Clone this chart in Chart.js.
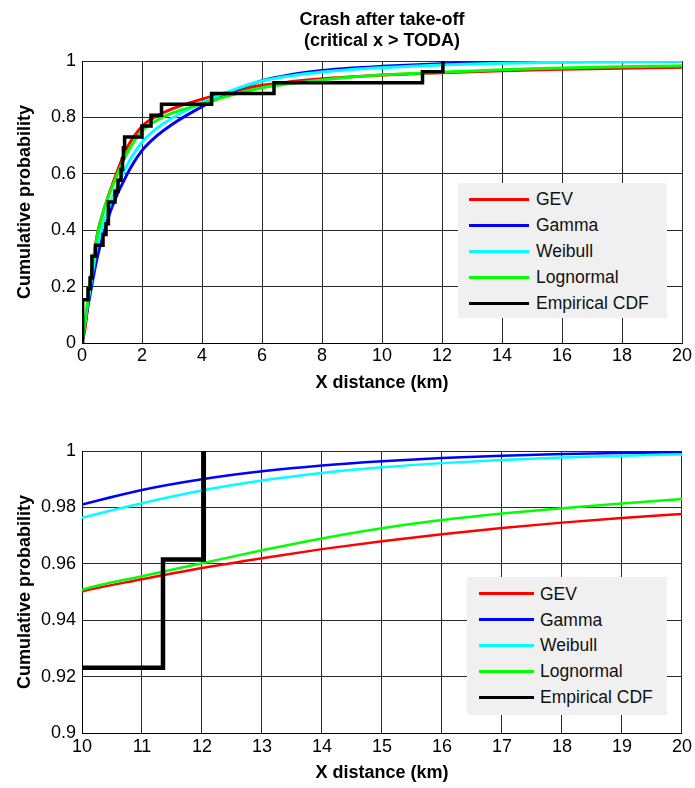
<!DOCTYPE html>
<html>
<head>
<meta charset="utf-8">
<title>Crash after take-off</title>
<script src="https://cdn.jsdelivr.net/npm/chart.js@4.4.1/dist/chart.umd.min.js"></script>
<style>
  body { margin: 0; background: #fff; font-family: "Liberation Sans", Arial, sans-serif; }
  #wrap { position: relative; width: 695px; height: 788px; }
  canvas { position: absolute; left: 0; }
  .legend { position: absolute; background: #f0f0f0; color: #111; font-size: 17.5px; box-sizing: border-box; }
  .legend .row { position: relative; }
  .legend .swatch { position: absolute; top: 50%; height: 3px; margin-top: -1.5px; }
  .legend .label { position: absolute; top: 50%; transform: translateY(-50%); white-space: nowrap; }
</style>
</head>
<body>
<div id="wrap">
  <canvas id="topChart" width="695" height="395" style="top:0"></canvas>
  <canvas id="zoomChart" width="695" height="393" style="top:395px"></canvas>
  <div id="topLegend" class="legend"></div>
  <div id="zoomLegend" class="legend"></div>
</div>
<script>
// fitted CDFs
const distKm     = [0, 0.1, 0.25, 0.5, 0.75, 1, 1.5, 2, 2.5, 3, 4, 5, 6, 7, 8, 9, 10, 11, 12, 13, 14, 15, 16, 17, 18, 19, 20];
const gevCdf     = [0, 0.05, 0.19, 0.38, 0.48, 0.558, 0.692, 0.768, 0.805, 0.83, 0.865, 0.892, 0.914, 0.927, 0.937, 0.944, 0.9502, 0.9545, 0.9585, 0.962, 0.9652, 0.968, 0.9705, 0.9727, 0.9746, 0.9762, 0.9777];
const gammaCdf   = [0, 0.07, 0.16, 0.30, 0.40, 0.482, 0.598, 0.682, 0.735, 0.775, 0.838, 0.892, 0.93, 0.952, 0.966, 0.975, 0.981, 0.9862, 0.990, 0.9928, 0.9949, 0.9964, 0.9975, 0.9983, 0.9989, 0.9993, 0.9996];
const weibullCdf = [0, 0.08, 0.18, 0.34, 0.435, 0.512, 0.63, 0.712, 0.762, 0.797, 0.852, 0.896, 0.929, 0.948, 0.961, 0.970, 0.9763, 0.9815, 0.986, 0.9895, 0.9922, 0.9942, 0.9957, 0.9968, 0.9977, 0.9983, 0.9988];
const lognCdf    = [0, 0.07, 0.20, 0.375, 0.48, 0.552, 0.673, 0.752, 0.79, 0.815, 0.848, 0.88, 0.905, 0.921, 0.933, 0.943, 0.9508, 0.9556, 0.9602, 0.9648, 0.969, 0.9726, 0.9755, 0.9778, 0.9797, 0.9814, 0.983];

// empirical CDF jump points
const ecdfKm   = [0.02, 0.02, 0.2, 0.27, 0.33, 0.45, 0.7, 0.8, 0.88, 1.1, 1.2, 1.3, 1.35, 1.38, 1.42, 2.0, 2.3, 2.65, 4.32, 6.4, 11.35, 12.03];
const ecdfProb = [0, 0.1538, 0.1923, 0.2308, 0.3077, 0.3462, 0.3846, 0.4231, 0.5, 0.5385, 0.5769, 0.6154, 0.6538, 0.6923, 0.7308, 0.7692, 0.8077, 0.8462, 0.8846, 0.9231, 0.9615, 1];

const seriesNames  = ['GEV', 'Gamma', 'Weibull', 'Lognormal'];
const seriesValues = [gevCdf, gammaCdf, weibullCdf, lognCdf];
const seriesColors = ['#ff0000', '#0000ff', '#00ffff', '#00ff00'];

const xTicksTop  = [0, 2, 4, 6, 8, 10, 12, 14, 16, 18, 20];
const yTicksTop  = [0, 0.2, 0.4, 0.6, 0.8, 1];
const xTicksZoom = [10, 11, 12, 13, 14, 15, 16, 17, 18, 19, 20];
const yTicksZoom = [0.9, 0.92, 0.94, 0.96, 0.98, 1];

Chart.defaults.font.family = '"Liberation Sans", Arial, sans-serif';
Chart.defaults.font.size = 18;
Chart.defaults.color = '#000';

const gridStyle = { color: '#2a2a2a', lineWidth: 1, drawTicks: false };
const borderStyle = { display: true, color: '#000', width: 1 };

function makeDatasets(fitWidth, ecdfWidth) {
  const sets = seriesNames.map((name, i) => ({
    label: name,
    data: distKm.map((x, j) => ({ x, y: seriesValues[i][j] })),
    borderColor: seriesColors[i],
    borderWidth: fitWidth,
    pointRadius: 0,
    cubicInterpolationMode: 'monotone',
    order: seriesNames.length - i
  }));
  sets.push({
    label: 'Empirical CDF',
    data: ecdfKm.map((x, j) => ({ x, y: ecdfProb[j] })),
    borderColor: '#000',
    borderWidth: ecdfWidth,
    pointRadius: 0,
    stepped: 'before',
    order: 0
  });
  return sets;
}

function makeChart(canvasId, c) {
  return new Chart(document.getElementById(canvasId), {
    type: 'line',
    data: { datasets: makeDatasets(c.fitWidth, c.ecdfWidth) },
    options: {
      responsive: false,
      animation: false,
      layout: { padding: { top: c.padTop, right: 13, bottom: 0, left: 0 } },
      plugins: {
        legend: { display: false },
        tooltip: { enabled: false },
        title: {
          display: !!c.title,
          text: c.title || '',
          fullSize: false,
          font: { size: 18, weight: 'bold', lineHeight: '21px' },
          padding: { top: 0, bottom: 9 }
        }
      },
      scales: {
        x: {
          type: 'linear',
          min: c.xTicks[0],
          max: c.xTicks[c.xTicks.length - 1],
          afterBuildTicks: s => { s.ticks = c.xTicks.map(v => ({ value: v })); },
          afterFit: s => { s.height = c.height - c.plotBottom; },
          ticks: { padding: c.xTickPad, maxRotation: 0, autoSkip: false, callback: v => String(v) },
          grid: gridStyle,
          border: borderStyle,
          title: {
            display: true,
            text: 'X distance (km)',
            font: { size: 18, weight: 'bold' },
            padding: { top: 0, bottom: c.xTitlePad }
          }
        },
        y: {
          min: c.yTicks[0],
          max: c.yTicks[c.yTicks.length - 1],
          afterBuildTicks: s => { s.ticks = c.yTicks.map(v => ({ value: v })); },
          afterFit: s => { s.width = 82; },
          ticks: { padding: 6, autoSkip: false, callback: v => String(v) },
          grid: gridStyle,
          border: borderStyle,
          title: {
            display: true,
            text: 'Cumulative probability',
            font: { size: 18, weight: 'bold' },
            padding: { top: 14, bottom: 0 }
          }
        }
      }
    }
  });
}

function buildLegend(chart, elId, box) {
  const el = document.getElementById(elId);
  Object.assign(el.style, {
    left: box.left + 'px', top: box.top + 'px',
    width: box.width + 'px', height: box.height + 'px',
    paddingTop: box.padTop + 'px'
  });
  chart.data.datasets.forEach(ds => {
    const row = document.createElement('div');
    row.className = 'row';
    row.style.height = box.rowH + 'px';
    const sw = document.createElement('span');
    sw.className = 'swatch';
    sw.style.left = box.lineX + 'px';
    sw.style.width = box.lineW + 'px';
    sw.style.background = ds.borderColor;
    const lab = document.createElement('span');
    lab.className = 'label';
    lab.style.left = box.textX + 'px';
    lab.textContent = ds.label;
    row.appendChild(sw);
    row.appendChild(lab);
    el.appendChild(row);
  });
}

const topChart = makeChart('topChart', {
  title: ['Crash after take-off', '(critical x > TODA)'],
  padTop: 10, height: 395, plotBottom: 343,
  xTicks: xTicksTop, yTicks: yTicksTop,
  xTickPad: 2, xTitlePad: 1,
  fitWidth: 3, ecdfWidth: 3.5
});

const zoomChart = makeChart('zoomChart', {
  title: null,
  padTop: 56, height: 393, plotBottom: 338,
  xTicks: xTicksZoom, yTicks: yTicksZoom,
  xTickPad: 3, xTitlePad: 4,
  fitWidth: 2.5, ecdfWidth: 4.5
});

buildLegend(topChart, 'topLegend', { left: 458, top: 183, width: 209, height: 135, padTop: 3, rowH: 26, lineX: 11, lineW: 60, textX: 78 });
buildLegend(zoomChart, 'zoomLegend', { left: 467, top: 577, width: 200, height: 138, padTop: 4, rowH: 25.8, lineX: 12, lineW: 55, textX: 73 });
</script>
</body>
</html>
